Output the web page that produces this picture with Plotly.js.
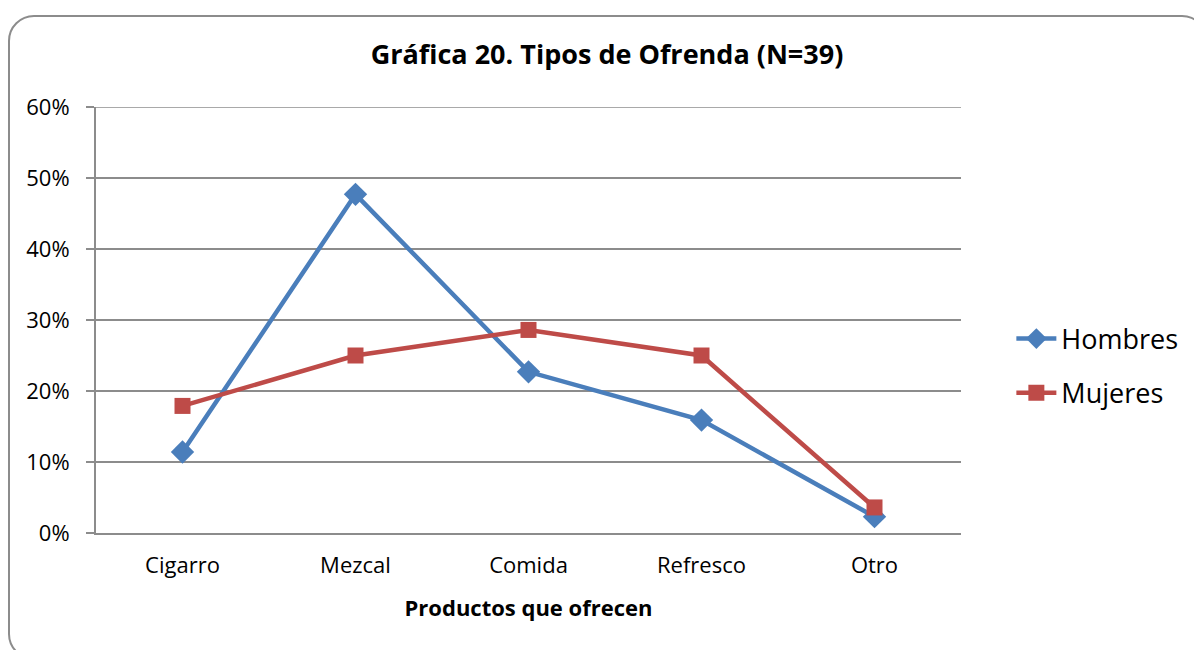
<!DOCTYPE html>
<html>
<head>
<meta charset="utf-8">
<script src="https://cdn.plot.ly/plotly-3.0.1.min.js"></script>
<style>
html,body{margin:0;padding:0;background:#fff;overflow:hidden;}
#chart{width:1194px;height:650px;position:absolute;left:0;top:0;}
#frame{position:absolute;left:8px;top:15px;width:1200px;height:645px;border:2px solid #8c8c8c;border-radius:26px;box-sizing:border-box;pointer-events:none;}
</style>
</head>
<body>
<div id="chart"></div>
<div id="frame"></div>
<script>
const categories = ["Cigarro", "Mezcal", "Comida", "Refresco", "Otro"];
const hombres = [0.114, 0.477, 0.227, 0.159, 0.023];
const mujeres = [0.179, 0.25, 0.286, 0.25, 0.036];
const tickVals = [0, 0.1, 0.2, 0.3, 0.4, 0.5, 0.6];
const tickText = ["0%", "10%", "20%", "30%", "40%", "50%", "60%"];

const font = "'Open Sans', sans-serif";

const traces = [
  {x: categories, y: hombres, name: "Hombres", legendgroup: "h", type: "scatter", mode: "lines+markers",
   line: {color: "#4a7ebb", width: 4.5}, marker: {symbol: "diamond", size: 18, color: "#4a7ebb"}},
  {x: categories, y: mujeres, name: "Mujeres", legendgroup: "m", type: "scatter", mode: "lines+markers",
   line: {color: "#be4b48", width: 4.5}, marker: {symbol: "square", size: 16, color: "#be4b48"}}
];

const layout = {
  width: 1194, height: 650,
  paper_bgcolor: "#fff", plot_bgcolor: "#fff",
  margin: {l: 96, r: 232, t: 107, b: 117},
  font: {family: font, color: "#000"},
  title: {text: "<b>Gráfica 20. Tipos de Ofrenda (N=39)</b>", font: {size: 27, family: font, color: "#000"},
          x: 607/1194, xref: "container", y: 1 - 55/650, yref: "container", xanchor: "center", yanchor: "middle"},
  xaxis: {type: "category", range: [-0.5, 4.5], showgrid: false, showline: true, linecolor: "#8c8c8c", linewidth: 2,
          ticks: "", tickfont: {size: 22, family: font}, ticklabelstandoff: 12,
          title: {text: "<b>Productos que ofrecen</b>", font: {size: 22, family: font}, standoff: 22},
          zeroline: false, fixedrange: true},
  yaxis: {range: [0, 0.6], tickvals: tickVals, ticktext: tickText, showgrid: true, gridcolor: "#8c8c8c", gridwidth: 1.5,
          showline: true, linecolor: "#8c8c8c", linewidth: 2, ticks: "outside", ticklen: 8, tickcolor: "#8c8c8c", tickwidth: 1.5,
          tickfont: {size: 22, family: font}, ticklabelstandoff: 12, zeroline: false, fixedrange: true},
  shapes: [{type: "line", xref: "paper", yref: "y", x0: 0, x1: 1, y0: tickVals[tickVals.length - 1], y1: tickVals[tickVals.length - 1],
            line: {color: "#8c8c8c", width: 1.5}, layer: "below"}],
  showlegend: true,
  legend: {x: 1.057, xanchor: "left", y: 0.392, yanchor: "middle", font: {size: 27, family: font}, tracegroupgap: 16,
           bgcolor: "rgba(0,0,0,0)", itemwidth: 40},
  hovermode: false
};

Plotly.newPlot("chart", traces, layout, {displayModeBar: false, staticPlot: true});
</script>
</body>
</html>
